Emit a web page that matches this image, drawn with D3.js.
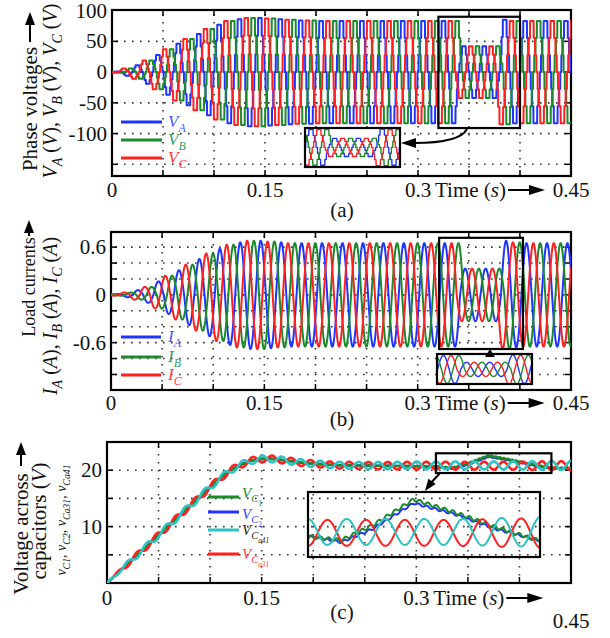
<!DOCTYPE html>
<html>
<head>
<meta charset="utf-8">
<script src="https://cdn.jsdelivr.net/npm/d3@7"></script>
<style>
  body { margin: 0; background: #fff; }
  svg text { font-family: "Liberation Serif", "Times New Roman", serif; fill: #111; }
  .grid { stroke: #333; stroke-width: 1.6; stroke-dasharray: 1.6 6.4; }
  .tick { stroke: #000; stroke-width: 1.5; }
  .frame { fill: none; stroke: #000; stroke-width: 2.2; }
  .box { fill: none; stroke: #000; stroke-width: 2.2; }
  .wave { fill: none; stroke-linejoin: round; }
</style>
</head>
<body>
<svg id="chart" width="610" height="638"></svg>
<script>
// ---------- values ----------
const freq = 50;   // Hz
const gridTimes = [0.05, 0.1, 0.15, 0.2, 0.25, 0.3, 0.35, 0.4];
const timeTicks = [0, 0.15, 0.3];
const timeTickLabels = ["0", "0.15", "0.3"];
const endTimeLabel = "0.45";

// (a) phase voltage peak (V) of every 10 ms half cycle, 0 .. 0.45 s
const voltPeaks = [1, 6, 11, 19, 28, 37, 46, 54, 62, 70, 77, 83, 86, 88, 88, 87, 86, 85, 84, 84,
  83, 83, 83, 83, 83, 83, 83, 83, 83, 83, 83, 83, 83, 83,
  42, 42, 42, 42,
  85, 83, 83, 83, 83, 83, 83];
// staircase inside one half cycle: edges (fraction of half cycle) and levels (fraction of peak)
const stairEdges = [0.06, 0.19, 0.32, 0.68, 0.81, 0.94];
const stairLevels = [0, 0.33, 0.67, 1, 0.67, 0.33, 0];
const voltGrid = [-150, -100, -50, 0, 50];
const voltTicks = [100, 50, 0, -50, -100];
const voltTickLabels = ["100", "50", "0", "-50", "-100"];

// (b) load current peak (A) of every 10 ms half cycle
const currPeaks = [0.01, 0.03, 0.06, 0.1, 0.17, 0.24, 0.31, 0.38, 0.45, 0.52, 0.58, 0.63, 0.66, 0.68, 0.68, 0.67, 0.66, 0.65, 0.65, 0.65,
  0.65, 0.65, 0.65, 0.65, 0.65, 0.65, 0.65, 0.65, 0.65, 0.65, 0.65, 0.65, 0.65, 0.65,
  0.33, 0.33, 0.33, 0.33,
  0.68, 0.66, 0.65, 0.65, 0.65, 0.65, 0.65];
const currentLag = 0.0015;   // s
const currGrid = [-1.0, -0.8, -0.6, -0.4, -0.2, 0, 0.2, 0.4, 0.6];
const currTicks = [0.6, 0, -0.6];
const currTickLabels = ["0.6", "0", "-0.6"];

// (c) capacitor voltages (V)
const capTimes = [0, 0.02, 0.04, 0.06, 0.08, 0.10, 0.11, 0.12, 0.13, 0.14, 0.15, 0.16, 0.17, 0.19, 0.22, 0.26, 0.30, 0.32, 0.335, 0.35, 0.37, 0.39, 0.41, 0.43, 0.45];
const vC1  = [0, 3.4, 6.8, 10.2, 13.6, 17.0, 18.6, 20.0, 21.0, 21.7, 22.0, 22.0, 21.8, 21.3, 20.9, 20.8, 20.7, 20.6, 20.4, 21.2, 22.6, 21.9, 21.1, 20.4, 20.3];
const vC2  = [0, 3.4, 6.8, 10.2, 13.6, 17.0, 18.6, 20.0, 21.0, 21.7, 22.0, 22.0, 21.8, 21.3, 20.9, 20.8, 20.7, 20.6, 20.3, 21.0, 22.4, 21.8, 21.0, 20.4, 20.3];
const vCa31 = [0, 3.4, 6.8, 10.2, 13.6, 17.0, 18.6, 20.0, 21.0, 21.7, 22.0, 22.0, 21.8, 21.3, 20.9, 20.8, 20.8, 20.8, 20.8, 20.8, 20.8, 20.8, 20.8, 20.8, 20.8];
const vCa41 = [0, 3.4, 6.8, 10.2, 13.6, 17.0, 18.6, 20.0, 21.0, 21.7, 22.0, 22.0, 21.8, 21.3, 20.9, 20.8, 20.85, 20.85, 20.85, 20.85, 20.85, 20.85, 20.85, 20.85, 20.85];
const capRipple = [0, 0.5, 0.6, 0.6, 0.6, 0.6, 0.6, 0.6, 0.6, 0.6, 0.6, 0.6, 0.6, 0.6, 0.6, 0.65, 0.7, 0.7, 0.7, 0.7, 0.7, 0.7, 0.75, 0.8, 0.8];
const rippleStart = 0.319, ripplePeriod = 0.0187;        // red / cyan oscillation
const sawAmp = 0.08, sawPeriod = 0.004;                  // small ripple on C1 / C2
const capGrid = [5, 10, 15, 20];
const capTicks = [20, 10];
const capTickLabels = ["20", "10"];

// ---------- helpers ----------
const svg = d3.select("#chart");
const colBlue = "#1f35ff", colGreen = "#1c8a2a", colRed = "#ff2020", colCyan = "#2cc3c3";
const T = 1 / freq, half = T / 2;
const times = d3.range(0, 0.45 + 1e-9, 0.0001);

function stair(u) { return stairLevels[d3.bisectRight(stairEdges, u)]; }
function sine(u) { return Math.sin(Math.PI * u); }

// value of one phase: peak taken from the half-cycle table, shape from the given function
function phaseValue(t, lead, peaks, shape) {
  const s = t + lead;
  if (s < 0) return 0;
  const k = Math.floor(s / half);
  const u = s / half - k;
  const tc = (k + 0.5) * half - lead;
  const slot = Math.max(0, Math.min(peaks.length - 1, Math.floor(tc / half)));
  return (k % 2 === 0 ? 1 : -1) * peaks[slot] * shape(u);
}

// rich text with (nested) subscripts
function rich(sel, parts, size) {
  let level = 0;
  parts.forEach(p => {
    const lv = p.sub || 0;
    const ts = sel.append("tspan").text(p.t)
      .attr("font-size", size * Math.pow(0.7, lv))
      .attr("font-style", p.it ? "italic" : "normal");
    const dy = (lv - level) * size * 0.27;
    if (dy) ts.attr("dy", dy);
    level = lv;
  });
  return sel;
}

function arrowHead(x, y, angle, len, wid) {
  const a = angle * Math.PI / 180;
  const bx = x - len * Math.cos(a), by = y - len * Math.sin(a);
  const nx = -Math.sin(a) * wid / 2, ny = Math.cos(a) * wid / 2;
  svg.append("path")
    .attr("d", `M${x},${y}L${bx + nx},${by + ny}L${bx - nx},${by - ny}Z`)
    .attr("fill", "#000");
}

function drawFrame(x, y, yGrid, yTicks, yLabels, labelBase) {
  const [xl, xr] = x.range(), [yb, yt] = y.range();
  gridTimes.forEach(t => {
    svg.append("line").attr("class", "grid")
      .attr("x1", x(t)).attr("x2", x(t)).attr("y1", yt + 4).attr("y2", yb);
    svg.append("line").attr("class", "tick")
      .attr("x1", x(t)).attr("x2", x(t)).attr("y1", yt).attr("y2", yt + 6);
    svg.append("line").attr("class", "tick")
      .attr("x1", x(t)).attr("x2", x(t)).attr("y1", yb).attr("y2", yb - 6);
  });
  yGrid.forEach(v => {
    svg.append("line").attr("class", "grid")
      .attr("x1", xl + 4).attr("x2", xr).attr("y1", y(v)).attr("y2", y(v));
    svg.append("line").attr("class", "tick")
      .attr("x1", xl).attr("x2", xl + 6).attr("y1", y(v)).attr("y2", y(v));
    svg.append("line").attr("class", "tick")
      .attr("x1", xr).attr("x2", xr - 6).attr("y1", y(v)).attr("y2", y(v));
  });
  svg.append("rect").attr("class", "frame")
    .attr("x", xl).attr("y", yt).attr("width", xr - xl).attr("height", yb - yt);
  yTicks.forEach((v, i) => {
    svg.append("text").attr("x", xl - 5).attr("y", y(v) + 7)
      .attr("text-anchor", "end").attr("font-size", 21).text(yLabels[i]);
  });
  timeTicks.forEach((t, i) => {
    svg.append("text").attr("x", x(t)).attr("y", labelBase)
      .attr("text-anchor", "middle").attr("font-size", 21).text(timeTickLabels[i]);
  });
  // "Time (s) ->"
  const tx = x(0.3) + 17;
  rich(svg.append("text").attr("x", tx).attr("y", labelBase).attr("font-size", 21),
    [{t: "Time ("}, {t: "s", it: true}, {t: ")"}], 21);
  svg.append("line").attr("x1", tx + 73).attr("x2", tx + 98)
    .attr("y1", labelBase - 7).attr("y2", labelBase - 7).attr("stroke", "#000").attr("stroke-width", 2);
  arrowHead(tx + 110, labelBase - 7, 0, 16, 10);
}

function clip(id, x0, y0, w, h) {
  svg.append("clipPath").attr("id", id).append("rect")
    .attr("x", x0).attr("y", y0).attr("width", w).attr("height", h);
  return `url(#${id})`;
}

function drawSeries(series, x, y, clipUrl, width, t0, t1) {
  const line = d3.line().x(d => x(d[0])).y(d => y(d[1]));
  const g = svg.append("g").attr("clip-path", clipUrl);
  series.forEach(s => {
    const pts = s.points.filter(d => d[0] >= t0 && d[0] <= t1);
    g.append("path").attr("class", "wave").attr("d", line(pts))
      .attr("stroke", s.color).attr("stroke-width", width);
  });
}

function vLabel(cx, cy, parts, size) {
  const t = svg.append("text").attr("transform", `translate(${cx},${cy}) rotate(-90)`)
    .attr("text-anchor", "middle").attr("font-size", size);
  rich(t, parts, size);
}

function upArrow(x, yTail, yTip) {
  svg.append("line").attr("x1", x).attr("x2", x).attr("y1", yTail).attr("y2", yTip + 10)
    .attr("stroke", "#000").attr("stroke-width", 2);
  arrowHead(x, yTip, -90, 13, 10);
}

function legend(items, x0, x1, tx, size) {
  items.forEach(it => {
    svg.append("line").attr("x1", x0).attr("x2", x1).attr("y1", it.y).attr("y2", it.y)
      .attr("stroke", it.color).attr("stroke-width", 3);
    rich(svg.append("text").attr("x", tx).attr("y", it.y + (it.dy == null ? 5 : it.dy))
      .attr("font-size", size).style("fill", it.text), it.parts, size);
  });
}

// ---------- (a) phase voltages ----------
const phases = [
  {lead: 0, color: colBlue},
  {lead: T / 3, color: colGreen},
  {lead: 2 * T / 3, color: colRed}
];
const xA = d3.scaleLinear().domain([0, 0.45]).range([112, 571]);
const yA = d3.scaleLinear().domain([-169, 101]).range([176, 10]);
const voltSeries = phases.map(p => ({
  color: p.color,
  points: times.map(t => [t, phaseValue(t, p.lead, voltPeaks, stair)])
}));

drawFrame(xA, yA, voltGrid, voltTicks, voltTickLabels, 197);
drawSeries(voltSeries, xA, yA, clip("clipA", 112, 10, 459, 166), 2, 0, 0.45);

// zoom boxes of (a)
const srcA = {t: [0.32, 0.40], v: [-91, 90]};
svg.append("rect").attr("class", "box")
  .attr("x", xA(srcA.t[0])).attr("y", yA(srcA.v[1]))
  .attr("width", xA(srcA.t[1]) - xA(srcA.t[0])).attr("height", yA(srcA.v[0]) - yA(srcA.v[1]));
const ixA = d3.scaleLinear().domain(srcA.t).range([305, 400]);
const iyA = d3.scaleLinear().domain(srcA.v).range([167, 128]);
svg.append("rect").attr("x", 305).attr("y", 128).attr("width", 95).attr("height", 39).attr("fill", "#fff");
drawSeries(voltSeries, ixA, iyA, clip("clipAi", 305, 128, 95, 39), 1.4, srcA.t[0], srcA.t[1]);
svg.append("rect").attr("class", "box").attr("x", 305).attr("y", 128).attr("width", 95).attr("height", 39);
svg.append("path").attr("d", "M467,129 Q460,143 414,143").attr("fill", "none")
  .attr("stroke", "#000").attr("stroke-width", 2);
arrowHead(401, 143, 180, 15, 10);

legend([
  {y: 122, color: colBlue, text: "#4657ff", parts: [{t: "V", it: true}, {t: "A", it: true, sub: 1}]},
  {y: 140, color: colGreen, text: "#2f9e68", parts: [{t: "V", it: true}, {t: "B", it: true, sub: 1}]},
  {y: 158, color: colRed, text: "#ff3a3a", parts: [{t: "V", it: true}, {t: "C", it: true, sub: 1}]}
], 121, 162, 168, 17);

vLabel(37, 109, [{t: "Phase voltages"}], 21);
upArrow(30, 42, 12);
vLabel(57, 91, [
  {t: "V", it: true}, {t: "A", it: true, sub: 1}, {t: " (", sub: 0}, {t: "V", it: true}, {t: "), "},
  {t: "V", it: true}, {t: "B", it: true, sub: 1}, {t: " (", sub: 0}, {t: "V", it: true}, {t: "), "},
  {t: "V", it: true}, {t: "C", it: true, sub: 1}, {t: " (", sub: 0}, {t: "V", it: true}, {t: ")"}
], 20);
svg.append("text").attr("x", 342).attr("y", 217).attr("text-anchor", "middle")
  .attr("font-size", 21).text("(a)");
svg.append("text").attr("x", xA(0.45)).attr("y", 197).attr("text-anchor", "middle")
  .attr("font-size", 21).text(endTimeLabel);

// ---------- (b) load currents ----------
const xB = d3.scaleLinear().domain([0, 0.45]).range([111, 571]);
const yB = d3.scaleLinear().domain([-1.195, 0.79]).range([390, 232]);
const currSeries = phases.map(p => ({
  color: p.color,
  points: times.map(t => [t, phaseValue(t, p.lead - currentLag, currPeaks, sine)])
}));

drawFrame(xB, yB, currGrid, currTicks, currTickLabels, 410);
drawSeries(currSeries, xB, yB, clip("clipB", 111, 232, 460, 158), 2, 0, 0.45);

const srcB = {t: [0.321, 0.403], v: [-0.68, 0.717]};
svg.append("rect").attr("class", "box")
  .attr("x", xB(srcB.t[0])).attr("y", yB(srcB.v[1]))
  .attr("width", xB(srcB.t[1]) - xB(srcB.t[0])).attr("height", yB(srcB.v[0]) - yB(srcB.v[1]));
const ixB = d3.scaleLinear().domain(srcB.t).range([437, 532]);
const iyB = d3.scaleLinear().domain(srcB.v).range([384, 354]);
svg.append("rect").attr("x", 437).attr("y", 354).attr("width", 95).attr("height", 30).attr("fill", "#fff");
drawSeries(currSeries, ixB, iyB, clip("clipBi", 437, 354, 95, 30), 1.4, srcB.t[0], srcB.t[1]);
svg.append("rect").attr("class", "box").attr("x", 437).attr("y", 354).attr("width", 95).attr("height", 30);
arrowHead(490, 349, -90, 8, 10);

legend([
  {y: 337, color: colBlue, text: "#4657ff", parts: [{t: "I", it: true}, {t: "A", it: true, sub: 1}]},
  {y: 357, color: colGreen, text: "#2f9e68", parts: [{t: "I", it: true}, {t: "B", it: true, sub: 1}]},
  {y: 375, color: colRed, text: "#ff3a3a", parts: [{t: "I", it: true}, {t: "C", it: true, sub: 1}]}
], 121, 161, 168, 17);

vLabel(35, 287, [{t: "Load currents"}], 18);
upArrow(29, 236, 220);
vLabel(57, 316, [
  {t: "I", it: true}, {t: "A", it: true, sub: 1}, {t: " (", sub: 0}, {t: "A", it: true}, {t: "), "},
  {t: "I", it: true}, {t: "B", it: true, sub: 1}, {t: " (", sub: 0}, {t: "A", it: true}, {t: "), "},
  {t: "I", it: true}, {t: "C", it: true, sub: 1}, {t: " (", sub: 0}, {t: "A", it: true}, {t: ")"}
], 20);
svg.append("text").attr("x", 342).attr("y", 426).attr("text-anchor", "middle")
  .attr("font-size", 21).text("(b)");
svg.append("text").attr("x", xB(0.45)).attr("y", 410).attr("text-anchor", "middle")
  .attr("font-size", 21).text(endTimeLabel);

// ---------- (c) capacitor voltages ----------
const xC = d3.scaleLinear().domain([0, 0.45]).range([107, 571]);
const yC = d3.scaleLinear().domain([0, 25]).range([583, 442]);
const base = arr => d3.scaleLinear().domain(capTimes).range(arr);
const ripple = d3.scaleLinear().domain(capTimes).range(capRipple);
const osc = t => Math.cos(2 * Math.PI * (t - rippleStart) / ripplePeriod);
const saw = (t, ph) => Math.sin(2 * Math.PI * t / sawPeriod + ph);
const bC1 = base(vC1), bC2 = base(vC2), bC31 = base(vCa31), bC41 = base(vCa41);
const capSeries = [
  {color: colBlue, points: times.map(t => [t, bC2(t) + 0.7 * sawAmp * saw(t, 1) * (t > 0.3 ? 1 : 0)])},
  {color: colGreen, points: times.map(t => [t, bC1(t) + sawAmp * saw(t, 0) * (t > 0.3 ? 1 : 0)])},
  {color: colRed, points: times.map(t => [t, bC31(t) - ripple(t) * osc(t)])},
  {color: colCyan, points: times.map(t => [t, bC41(t) + ripple(t) * osc(t)])}
];

drawFrame(xC, yC, capGrid, capTicks, capTickLabels, 605);
drawSeries(capSeries, xC, yC, clip("clipC", 107, 442, 464, 141), 2.6, 0, 0.45);

const srcC = {t: [0.319, 0.431], v: [19.5, 23.0]};
svg.append("rect").attr("class", "box")
  .attr("x", xC(srcC.t[0])).attr("y", yC(srcC.v[1]))
  .attr("width", xC(srcC.t[1]) - xC(srcC.t[0])).attr("height", yC(srcC.v[0]) - yC(srcC.v[1]));
const ixC = d3.scaleLinear().domain(srcC.t).range([308, 540]);
const iyC = d3.scaleLinear().domain(srcC.v).range([557, 492]);
drawSeries(capSeries, ixC, iyC, clip("clipCi", 308, 492, 232, 65), 2, srcC.t[0], srcC.t[1]);
svg.append("rect").attr("class", "box").attr("x", 308).attr("y", 492).attr("width", 232).attr("height", 65);
svg.append("line").attr("x1", 440).attr("y1", 473).attr("x2", 430).attr("y2", 484)
  .attr("stroke", "#000").attr("stroke-width", 2);
arrowHead(425, 491, 126, 12, 9);

legend([
  {y: 497, dy: 1, color: colGreen, text: "#1c8a2a", parts: [{t: "V", it: true}, {t: "C", it: true, sub: 1}, {t: "1", sub: 2}]},
  {y: 512, dy: 7, color: colBlue, text: "#2a3cff", parts: [{t: "V", it: true}, {t: "C", it: true, sub: 1}, {t: "2", sub: 2}]},
  {y: 530, dy: 5, color: colCyan, text: "#222", parts: [{t: "V", it: true}, {t: "C", it: true, sub: 1}, {t: "a41", it: true, sub: 2}]},
  {y: 554, dy: 5, color: colRed, text: "#ff3a3a", parts: [{t: "V", it: true}, {t: "C", it: true, sub: 1}, {t: "a31", it: true, sub: 2}]}
], 208, 239, 242, 15);

vLabel(28, 534, [{t: "Voltage across"}], 21);
upArrow(21, 466, 442);
vLabel(46, 521, [{t: "capacitors ("}, {t: "V", it: true}, {t: ")"}], 21);
vLabel(66, 520, [
  {t: "v", it: true}, {t: "C1", it: true, sub: 1}, {t: ", "},
  {t: "v", it: true}, {t: "C2", it: true, sub: 1}, {t: ", "},
  {t: "v", it: true}, {t: "Ca31", it: true, sub: 1}, {t: ", "},
  {t: "v", it: true}, {t: "Ca41", it: true, sub: 1}
], 14);
svg.append("text").attr("x", 342).attr("y", 619).attr("text-anchor", "middle")
  .attr("font-size", 21).text("(c)");
svg.append("text").attr("x", xC(0.45)).attr("y", 628).attr("text-anchor", "middle")
  .attr("font-size", 21).text(endTimeLabel);
</script>
</body>
</html>
